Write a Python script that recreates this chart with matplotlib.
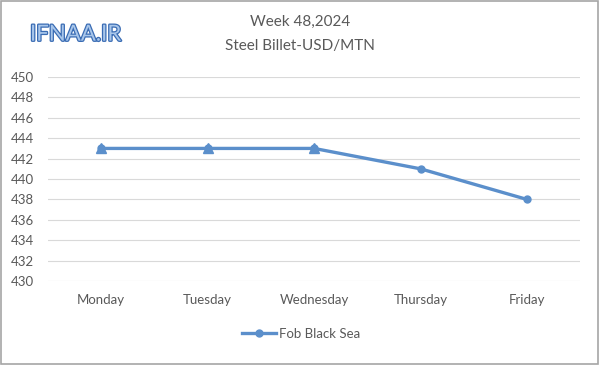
import matplotlib.pyplot as plt
import matplotlib.patheffects as pe
from matplotlib.patches import Rectangle

days = ["Monday", "Tuesday", "Wednesday", "Thursday", "Friday"]
fob_black_sea = [443, 443, 443, 441, 438]
# hidden series drawn under the first three points (triangles)
other_days = ["Monday", "Tuesday", "Wednesday"]
other_vals = [443, 443, 443]
yticks = list(range(430, 451, 2))

plt.rcParams['font.family'] = ['Lato', 'DejaVu Sans']

blue = "#5b8fcb"
gray = "#595959"

fig = plt.figure(figsize=(6, 3.65), dpi=100)
ax = fig.add_axes([0.08, 0.23, 0.887, 0.559])

x = list(range(len(days)))
xo = [days.index(d) for d in other_days]
ax.plot(xo, other_vals, linestyle="none", marker="^", markersize=7, color=blue, zorder=3)
ax.plot(x, fob_black_sea, color=blue, linewidth=2.4, marker="o", markersize=5,
        label="Fob Black Sea", zorder=4)

ax.set_xlim(-0.5, len(days) - 0.5)
ax.set_ylim(430, 450)
ax.set_yticks(yticks)
ax.set_xticks(x)
ax.set_xticklabels(days)
ax.grid(axis="y", color="#d9d9d9", linewidth=0.8)
ax.set_axisbelow(True)
for s in ax.spines.values():
    s.set_visible(False)
ax.tick_params(length=0, labelsize=9.5, colors=gray)
ax.tick_params(axis="y", pad=10)
ax.tick_params(axis="x", pad=9)

fig.text(0.5, 0.94, "Week 48,2024", ha="center", va="center", fontsize=11, color=gray)
fig.text(0.5, 0.875, "Steel Billet-USD/MTN", ha="center", va="center", fontsize=11, color=gray)

fig.text(0.05, 0.905, "IFNAA.IR", ha="left", va="center", fontsize=16,
         color="#a8c6ea",
         path_effects=[pe.withStroke(linewidth=1.8, foreground="#3a6cb4")])

leg = ax.legend(loc="upper center", bbox_to_anchor=(0.475, -0.17), frameon=False,
                fontsize=9.5, handlelength=2.6, labelcolor=gray, handletextpad=0.2)

fig.patches.append(Rectangle((0.002, 0.004), 0.994, 0.992, transform=fig.transFigure,
                             fill=False, edgecolor="#a6a6a6", linewidth=1.2))

fig.savefig("out.png", dpi=100)
